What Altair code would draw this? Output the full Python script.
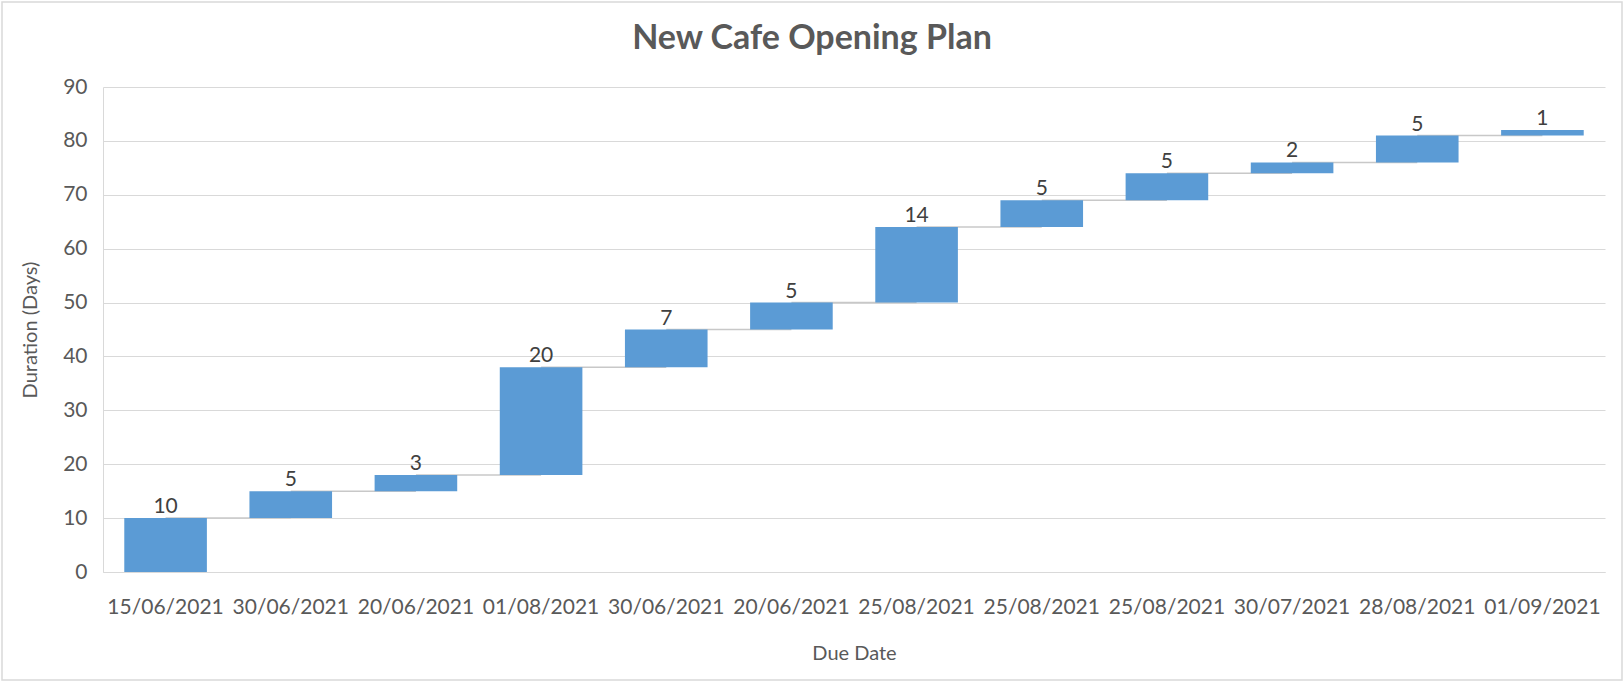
import altair as alt
import pandas as pd

dates = ["15/06/2021", "30/06/2021", "20/06/2021", "01/08/2021", "30/06/2021", "20/06/2021",
         "25/08/2021", "25/08/2021", "25/08/2021", "30/07/2021", "28/08/2021", "01/09/2021"]
durations = [10, 5, 3, 20, 7, 5, 14, 5, 5, 2, 5, 1]
y_ticks = [0, 10, 20, 30, 40, 50, 60, 70, 80, 90]

rows = []
total = 0
for i, (d, v) in enumerate(zip(dates, durations)):
    rows.append({"idx": i, "date": d, "value": v, "start": total, "end": total + v,
                 "next": i + 1 if i + 1 < len(dates) else None})
    total += v
df = pd.DataFrame(rows)
conn = df[df["next"].notna()].copy()
conn["next"] = conn["next"].astype(int)

label_expr = "[" + ",".join("'" + d + "'" for d in dates) + "][datum.value]"

FONT = "Lato"
GREY = "#595959"
GRID = "#D9D9D9"
BLUE = "#5B9BD5"

W, H = 1502, 485

x_enc = alt.X("idx:O", title="Due Date",
              scale=alt.Scale(paddingInner=0.34, paddingOuter=0.17),
              axis=alt.Axis(labelExpr=label_expr, labelAngle=0, ticks=False, bandPosition=0.5,
                            labelAlign="center",
                            labelPadding=24, titlePadding=26, domainColor=GRID,
                            labelFontSize=21, titleFontSize=20))
y_scale = alt.Scale(domain=[0, 90], nice=False)
y_axis = alt.Axis(values=y_ticks, ticks=False, labelPadding=16, gridColor=GRID,
                  domainColor=GRID, labelFontSize=21, titleFontSize=20, titlePadding=22)

base = alt.Chart(df)

border = alt.Chart(df).mark_rect(filled=False, stroke=GRID, strokeWidth=1.5).encode(
    x=alt.value(-101), x2=alt.value(W + 17), y=alt.value(-85), y2=alt.value(H + 108)
).transform_filter("datum.idx == 0")

connectors = alt.Chart(conn).mark_rule(color="#C8C8C8", strokeWidth=1.5).encode(
    x=x_enc, x2=alt.X2("next"),
    y=alt.Y("end:Q", scale=y_scale, title="Duration (Days)", axis=y_axis)
)

bars = base.mark_bar(color=BLUE).encode(
    x=x_enc,
    y=alt.Y("start:Q", scale=y_scale, title="Duration (Days)", axis=y_axis),
    y2="end:Q",
)

labels = base.mark_text(baseline="alphabetic", dy=-5, fontSize=21, font=FONT, color="#404040").encode(
    x="idx:O", y=alt.Y("end:Q", scale=y_scale), text="value:Q"
)

chart = alt.layer(connectors, bars, labels, border).properties(
    width=W, height=H,
    autosize=alt.AutoSizeParams(type="none"),
    padding={"left": 103, "top": 87, "right": 19, "bottom": 110},
    title=alt.TitleParams("New Cafe Opening Plan", fontSize=34, font=FONT, fontWeight="bold",
                          color=GREY, anchor="middle", dx=-42, baseline="alphabetic",
                          offset=0, dy=82),
).configure(background="white").configure_view(stroke=None).configure_axis(
    labelFont=FONT, titleFont=FONT, labelColor=GREY, titleColor=GREY,
    titleFontWeight="normal", grid=True
).configure_axisX(grid=False)

chart.save("out.html", embed_options={"renderer": "svg", "actions": False})
